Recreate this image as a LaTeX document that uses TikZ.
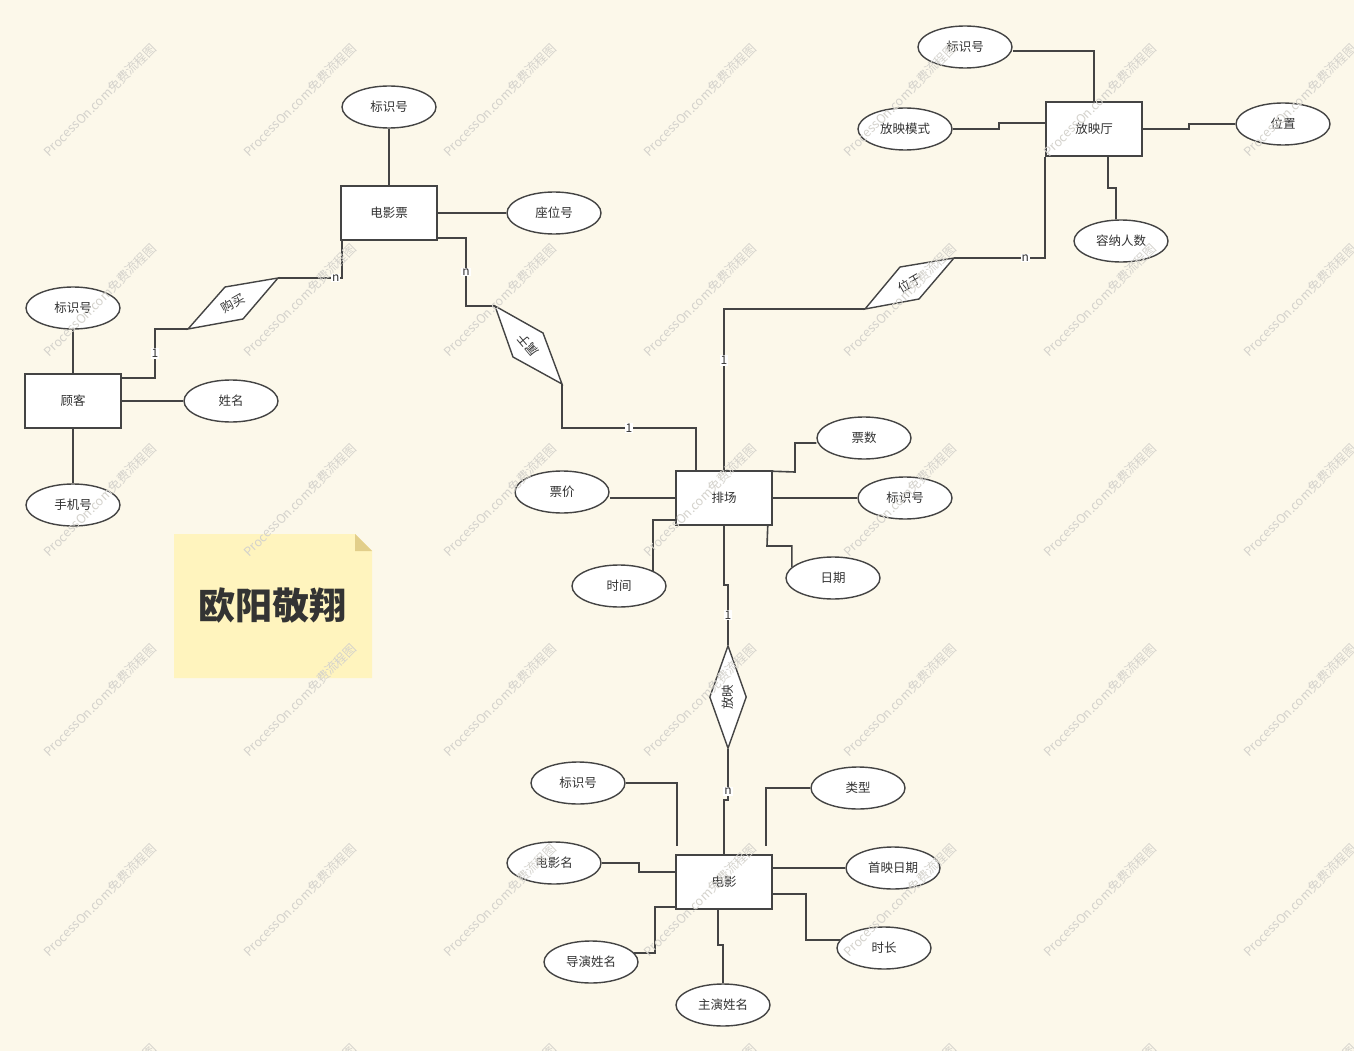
\documentclass[tikz,border=0pt]{standalone}
\usepackage{fontspec}
\setmainfont{Noto Sans CJK SC}
\usetikzlibrary{shapes.geometric}

\definecolor{paper}{HTML}{FCF8EA}
\definecolor{ink}{HTML}{444444}
\definecolor{txt}{HTML}{333333}
\definecolor{note}{HTML}{FFF4BE}
\definecolor{notefold}{HTML}{E2CE8A}
\definecolor{wmark}{HTML}{D4D2CC}

\tikzset{
  entity/.style={draw=ink, line width=1.5pt, fill=white, text=txt, minimum width=96pt, minimum height=54pt, inner sep=0pt, font=\fontsize{12.5}{15}\selectfont},
  attr/.style={ellipse, draw=ink, line width=1.4pt, fill=white, text=txt, minimum width=94pt, minimum height=42pt, inner sep=0pt, font=\fontsize{12.5}{15}\selectfont},
  rel/.style={draw=ink, line width=1.4pt, fill=white},
  reltext/.style={text=txt, inner sep=0pt, font=\fontsize{12.5}{15}\selectfont},
  link/.style={draw=ink, line width=1.6pt},
  card/.style={fill=white, text=txt, inner sep=1pt, font=\fontsize{12}{14}\selectfont},
  wm/.style={text=wmark, rotate=45, font=\fontsize{12.5}{15}\selectfont}
}

\begin{document}
\begin{tikzpicture}[x=1pt,y=-1pt]
\useasboundingbox (0,0) rectangle (1354,1051);
\fill[paper] (0,0) rectangle (1354,1051);

% sticky note
\fill[note] (174,534) -- (355,534) -- (372,551) -- (372,678) -- (174,678) -- cycle;
\fill[notefold] (355,534) -- (372,551) -- (355,551) -- cycle;
\node[text=txt, font=\fontsize{37}{44}\selectfont\bfseries] (author) at (272,606) {欧阳敬翔};

% entities
\node[entity] (ticket) at (389,213) {电影票};
\node[entity] (customer) at (73,401) {顾客};
\node[entity] (hall) at (1094,129) {放映厅};
\node[entity] (sched) at (724,498) {排场};
\node[entity] (film) at (724,882) {电影};

% attributes
\node[attr] (tktid) at (389,107) {标识号};
\node[attr] (seat) at (554,213) {座位号};
\node[attr] (cid) at (73,308) {标识号};
\node[attr] (cname) at (231,401) {姓名};
\node[attr] (phone) at (73,505) {手机号};
\node[attr] (hallid) at (965,47) {标识号};
\node[attr] (mode) at (905,129) {放映模式};
\node[attr] (place) at (1283,124) {位置};
\node[attr] (cap) at (1121,241) {容纳人数};
\node[attr] (tnum) at (864,438) {票数};
\node[attr] (sid) at (905,498) {标识号};
\node[attr] (price) at (562,492) {票价};
\node[attr] (time) at (619,586) {时间};
\node[attr] (date) at (833,578) {日期};
\node[attr] (mid) at (578,783) {标识号};
\node[attr] (type) at (858,788) {类型};
\node[attr] (mname) at (554,863) {电影名};
\node[attr] (prem) at (893,868) {首映日期};
\node[attr] (dname) at (591,962) {导演姓名};
\node[attr] (dur) at (884,948) {时长};
\node[attr] (lead) at (723,1005) {主演姓名};

% relationships
\coordinate (buyL) at (188,329); \coordinate (buyT) at (225,287);
\coordinate (buyR) at (278,278); \coordinate (buyB) at (243,319);
\draw[rel] (buyL) -- (buyT) -- (buyR) -- (buyB) -- cycle;
\node[reltext, rotate=30] (buy) at (233,303) {购买};

\coordinate (ofT) at (495,306); \coordinate (ofR) at (543,333);
\coordinate (ofB) at (562,384); \coordinate (ofL) at (513,357);
\draw[rel] (ofT) -- (ofR) -- (ofB) -- (ofL) -- cycle;
\node[reltext, rotate=130] (of) at (528,345) {属于};

\coordinate (atL) at (865,309); \coordinate (atT) at (900,267);
\coordinate (atR) at (954,258); \coordinate (atB) at (919,299);
\draw[rel] (atL) -- (atT) -- (atR) -- (atB) -- cycle;
\node[reltext, rotate=30] (at) at (910,283) {位于};

\node[rel, diamond, aspect=0.36, minimum width=37pt, minimum height=103pt, inner sep=0pt] (show) at (728,697) {};
\node[reltext, rotate=90] (showtxt) at (show) {放映};

% links of relationships
\draw[link] ([xshift=2pt]ticket.south west) |- node[card, pos=0.55] {n} (buyR);
\draw[link] (buyL) -- (155,329) |- node[card, pos=0.25] {1} ([yshift=23pt]customer.east);
\draw[link] ([yshift=-25pt]ticket.east) -- (466,238) |- node[card, pos=0.25] {n} (ofT);
\draw[link] (ofB) -- (562,428) -| node[card, pos=0.25] {1} ([xshift=-28pt]sched.north);
\draw[link] (sched.north) |- node[card, pos=0.34] {1} (atL);
\draw[link] (atR) -| node[card, pos=0.39] {n} (hall.south west);
\draw[link] (sched.south) -- (724,585) -| node[card, pos=0.75] {1} (show.north);
\draw[link] (show.south) -- node[card, pos=0.83] {n} (728,800) -| (film.north);

% links of attributes
\draw[link] (tktid.south) -- (ticket.north);
\draw[link] (ticket.east) -- (seat.west);
\draw[link] (cid.south) -- (customer.north);
\draw[link] (customer.east) -- (cname.west);
\draw[link] (customer.south) -- (phone.north);
\draw[link] ([yshift=-4pt]hallid.east) -| (hall.north);
\draw[link] (mode.east) -- (999,129) |- ([yshift=6pt]hall.west);
\draw[link] (hall.east) -- (1189,129) |- (place.west);
\draw[link] ([xshift=14pt]hall.south) -- (1108,188) -| ([xshift=-5pt]cap.north);
\draw[link] ([yshift=-1pt]sched.north east) -- (795,472) |- ([yshift=-5pt]tnum.west);
\draw[link] (sched.east) -- (sid.west);
\draw[link] (sched.west) -- (sched.west -| price.east);
\draw[link] ([yshift=-22pt]sched.west) -| (time.north east);
\draw[link] ([xshift=-5pt]sched.south east) -- (767,546) -| (date.165);
\draw[link] (mid.east) -| ([xshift=-47pt,yshift=8pt]film.north);
\draw[link] (type.west) -| ([xshift=42pt,yshift=8pt]film.north);
\draw[link] (mname.east) -- (639,863) |- ([yshift=10pt]film.west);
\draw[link] ([yshift=14pt]film.east) -- (prem.west);
\draw[link] ([yshift=-25pt]film.west) -- (655,907) |- (dname.12);
\draw[link] ([yshift=-12pt]film.east) -- (806,894) |- (dur.170);
\draw[link] ([xshift=-6pt]film.south) -- (718,945) -| (lead.north);

% watermark
\begin{scope}
\clip (0,0) rectangle (1354,1051);
\foreach \x in {100,300,...,1300}
  \foreach \y in {100,300,...,1100}
    \node[wm] at (\x,\y) {ProcessOn.com免费流程图};
\end{scope}
\end{tikzpicture}
\end{document}
